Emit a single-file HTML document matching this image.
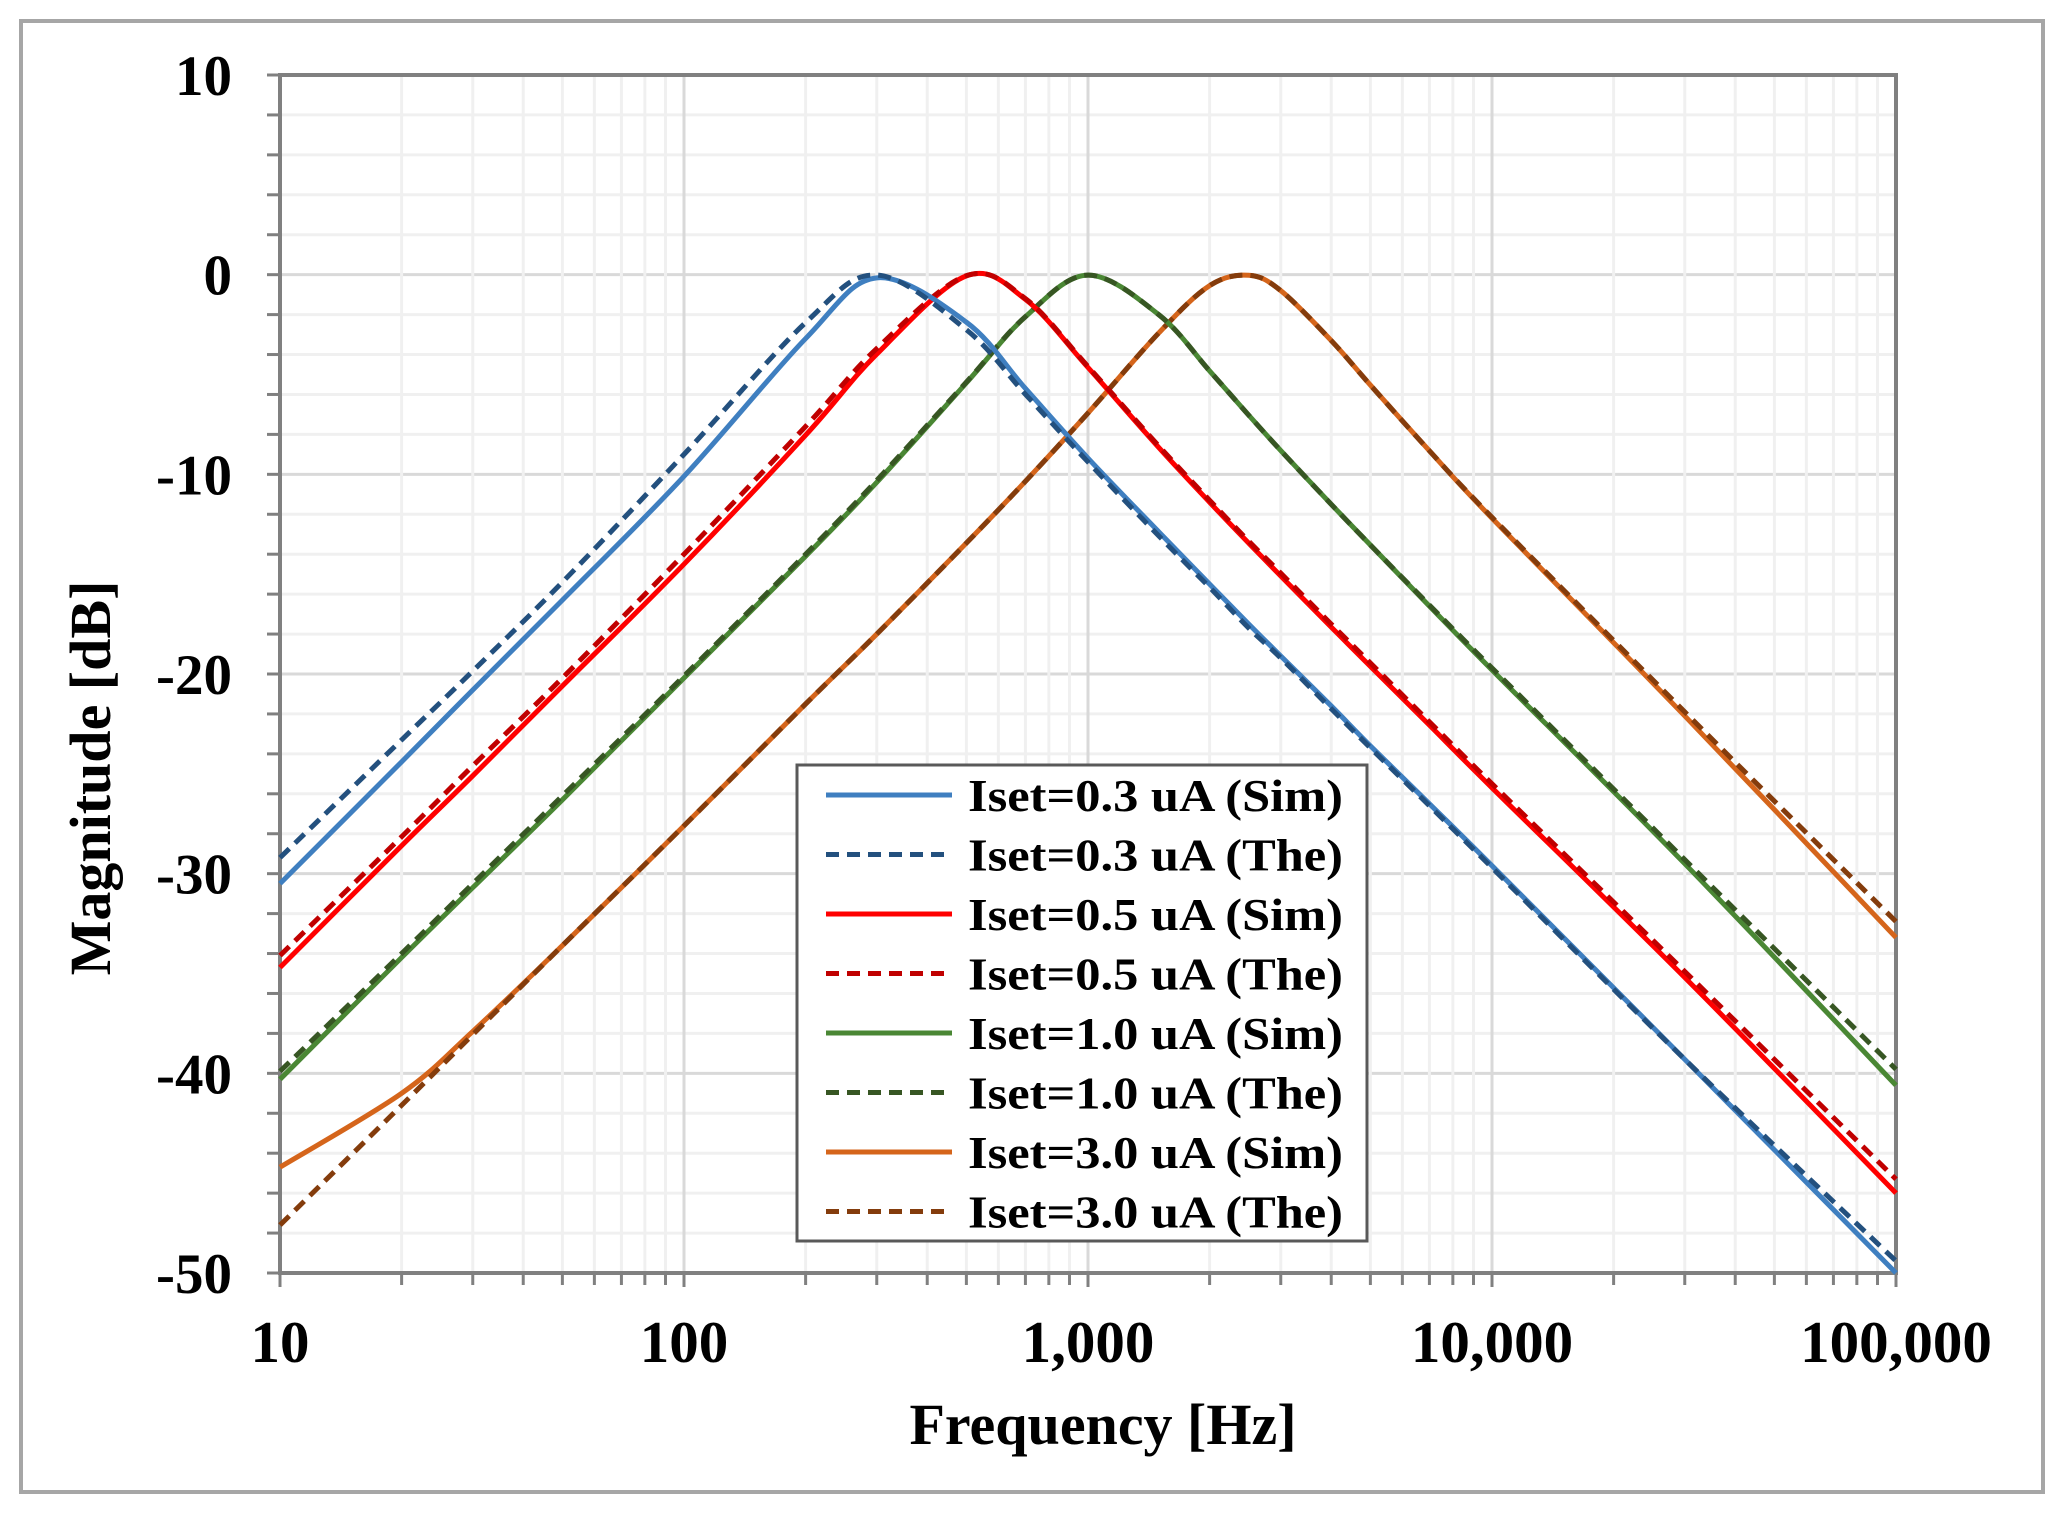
<!DOCTYPE html>
<html><head><meta charset="utf-8"><style>
html,body{margin:0;padding:0;background:#fff;}
svg{display:block;}
text{font-family:"Liberation Serif",serif;font-weight:bold;fill:#000;}
</style></head><body>
<svg id="chart" width="2063" height="1516" viewBox="0 0 2063 1516" xmlns="http://www.w3.org/2000/svg">
<rect x="21" y="21" width="2022" height="1471" fill="#fff" stroke="#a6a6a6" stroke-width="4"/>
<g id="grid"></g>
<g id="axes"></g>
<g id="series"></g>
<text x="1103" y="1444" font-size="58" text-anchor="middle">Frequency [Hz]</text>
<text transform="translate(110,778) rotate(-90)" font-size="58" text-anchor="middle">Magnitude [dB]</text>
<g id="legend"></g>
</svg>
<script>
const freqs=[10,20,30,50,100,200,300,500,700,1000,1500,2000,2500,3000,4000,5000,7000,10000,30000,100000];
const blueSim=[-30.5,-24.4,-20.8,-16.3,-10.1,-3.2,-0.16,-2.38,-5.7,-9.19,-12.9,-15.5,-17.5,-19.1,-21.6,-23.6,-26.5,-29.6,-39.3,-50.0];
const blueThe=[-29.2,-23.3,-19.85,-15.4,-9.0,-2.4,-0.02,-2.76,-5.99,-9.38,-13.1,-15.66,-17.7,-19.2,-21.74,-23.7,-26.6,-29.7,-39.3,-49.4];
const redSim=[-34.7,-28.6,-25.1,-20.6,-14.5,-8.04,-3.98,-0.06,-1.24,-4.65,-8.68,-11.4,-13.45,-15.09,-17.65,-19.62,-22.56,-25.7,-35.2,-46.0];
const redThe=[-34.1,-28.15,-24.6,-20.2,-14.0,-7.6,-3.7,-0.05,-1.2,-4.6,-8.6,-11.3,-13.35,-14.95,-17.5,-19.45,-22.4,-25.5,-34.9,-45.3];
const greenSim=[-40.3,-34.2,-30.7,-26.3,-20.2,-14.1,-10.4,-5.42,-2.11,-0.02,-2.02,-4.82,-7.04,-8.81,-11.5,-13.54,-16.6,-19.8,-29.5,-40.6];
const greenThe=[-39.9,-34.0,-30.5,-26.1,-20.1,-14.0,-10.3,-5.38,-2.1,-0.02,-2.02,-4.82,-7.04,-8.81,-11.5,-13.54,-16.55,-19.7,-29.3,-39.8];
const orangeSim=[-44.7,-41.0,-37.9,-33.6,-27.6,-21.5,-18.0,-13.44,-10.35,-6.93,-2.9,-0.55,-0.03,-0.8,-3.3,-5.53,-8.82,-12.2,-22.1,-33.2];
const orangeThe=[-47.6,-41.6,-38.06,-33.6,-27.6,-21.5,-18.0,-13.44,-10.35,-6.93,-2.9,-0.55,-0.03,-0.8,-3.3,-5.53,-8.82,-12.15,-21.9,-32.4];
const seriesNames=["Iset=0.3 uA (Sim)","Iset=0.3 uA (The)","Iset=0.5 uA (Sim)","Iset=0.5 uA (The)","Iset=1.0 uA (Sim)","Iset=1.0 uA (The)","Iset=3.0 uA (Sim)","Iset=3.0 uA (The)"];
const xTickValues=[10,100,1000,10000,100000];
const xTickLabels=["10","100","1,000","10,000","100,000"];
const yTickValues=[10,0,-10,-20,-30,-40,-50];
const yTickLabels=["10","0","-10","-20","-30","-40","-50"];

const NS="http://www.w3.org/2000/svg";
const L=280,R=1896,T=75,B=1273,yMin=-50,yMax=10,xMin=1,xMax=5;
const X=f=>L+(Math.log10(f)-xMin)/(xMax-xMin)*(R-L);
const Y=v=>B-(v-yMin)/(yMax-yMin)*(B-T);
function el(tag,attrs,parent){const e=document.createElementNS(NS,tag);for(const k in attrs)e.setAttribute(k,attrs[k]);parent.appendChild(e);return e;}
const grid=document.getElementById('grid'),axes=document.getElementById('axes'),ser=document.getElementById('series'),leg=document.getElementById('legend');
for(let v=yMin;v<=yMax;v+=2){
  const major=(v%10===0);
  const ln=el('line',{x1:L,x2:R,y1:Y(v),y2:Y(v),stroke:major?'#d9d9d9':'#f0f0f0','stroke-width':3},grid);
  
  
  const tk=el('line',{x1:L-13,x2:L,y1:Y(v),y2:Y(v),stroke:'#808080','stroke-width':3},axes);
  
  
}
for(let d=1;d<5;d++){for(let m=1;m<=10;m++){
  const f=Math.pow(10,d)*m;
  const major=(m===1||m===10);
  const ln=el('line',{x1:X(f),x2:X(f),y1:T,y2:B,stroke:major?'#d9d9d9':'#f0f0f0','stroke-width':3},grid);
  
  
  const tk=el('line',{x1:X(f),x2:X(f),y1:B,y2:B+(major?14:12),stroke:'#808080','stroke-width':3},axes);
  
  
}}
const frame=el('rect',{x:L,y:T,width:R-L,height:B-T,fill:'none',stroke:'#808080','stroke-width':4},axes);


yTickValues.forEach((v,i)=>{
  const t=el('text',{x:232,y:Y(v)+20,'font-size':57,'text-anchor':'end'},axes);t.textContent=yTickLabels[i];
  
  
});
xTickValues.forEach((f,i)=>{
  const t=el('text',{x:X(f),y:1362,'font-size':59,'text-anchor':'middle'},axes);t.textContent=xTickLabels[i];
  
  
});
function pathFor(vals){
  const p=freqs.map((f,i)=>[X(f),Y(vals[i])]);
  let d=`M${p[0][0]},${p[0][1]}`;
  for(let i=0;i<p.length-1;i++){
    const p0=p[Math.max(0,i-1)],p1=p[i],p2=p[i+1],p3=p[Math.min(p.length-1,i+2)];
    const c1=[p1[0]+(p2[0]-p0[0])/6,p1[1]+(p2[1]-p0[1])/6];
    const c2=[p2[0]-(p3[0]-p1[0])/6,p2[1]-(p3[1]-p1[1])/6];
    d+=` C${c1[0]},${c1[1]} ${c2[0]},${c2[1]} ${p2[0]},${p2[1]}`;
  }
  return d;
}
const allSeries=[blueSim,blueThe,redSim,redThe,greenSim,greenThe,orangeSim,orangeThe];
const colors=['#3f7fc0','#23507e','#ff0000','#c00000','#4a8734','#375623','#d5651b','#843c0c'];
const dashed=[false,true,false,true,false,true,false,true];
const keys=['blue-sim','blue-the','red-sim','red-the','green-sim','green-the','orange-sim','orange-the'];
const order=[6,7,4,5,2,3,0,1];
order.forEach(i=>{
  const p=el('path',{d:pathFor(allSeries[i]),fill:'none',stroke:colors[i],'stroke-width':5,'stroke-dasharray':dashed[i]?'13 8':'none'},ser);
  
  
});
const lb=el('rect',{x:797,y:765,width:570,height:476,fill:'#fff',stroke:'#595959','stroke-width':3},leg);


seriesNames.forEach((n,i)=>{
  const cy=795+i*59.5;
  const g=el('g',{},leg);
  
  
  el('line',{x1:826,x2:952,y1:cy,y2:cy,stroke:colors[i],'stroke-width':5,'stroke-dasharray':dashed[i]?'13 8':'none'},g);
  const t=el('text',{x:968,y:cy+16,'font-size':46,textLength:375,lengthAdjust:'spacingAndGlyphs'},g);t.textContent=n;
});
</script>
</body></html>
